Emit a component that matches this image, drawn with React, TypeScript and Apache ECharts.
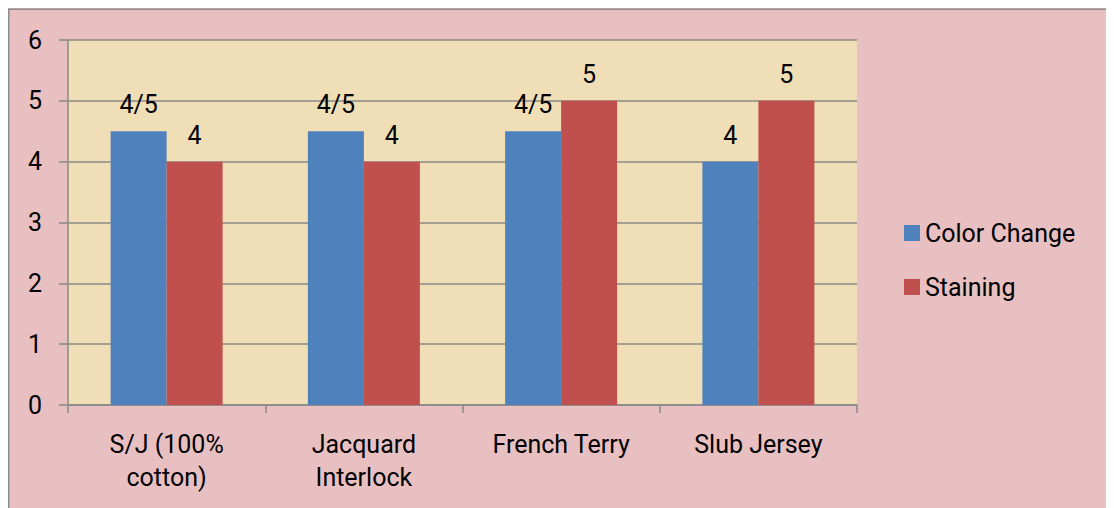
import React, { useEffect, useRef } from "react";
import * as echarts from "echarts";

const categories = ["S/J (100%\ncotton)", "Jacquard\nInterlock", "French Terry", "Slub Jersey"];
const colorChange = [4.5, 4.5, 4.5, 4];
const staining = [4, 4, 5, 5];
const colorChangeLabels = ["4/5", "4/5", "4/5", "4"];
const stainingLabels = ["4", "4", "5", "5"];
const yTicks = [0, 1, 2, 3, 4, 5, 6];

const FONT = "Roboto";

export default function App() {
  const ref = useRef<HTMLDivElement>(null);
  useEffect(() => {
    if (!ref.current) return;
    const chart = echarts.init(ref.current, undefined, { renderer: "svg" });
    const lbl = (arr: string[]) => ({
      show: true,
      position: "top",
      distance: 14,
      color: "#000",
      fontFamily: FONT,
      fontSize: 25,
      formatter: (p: any) => arr[p.dataIndex],
    });
    chart.setOption({
      animation: false,
      backgroundColor: "#e9c0c2",
      textStyle: { fontFamily: FONT },
      graphic: [
        {
          type: "polyline",
          shape: { points: [[0.75, 600], [0.75, 1.25], [1300, 1.25]] },
          style: { fill: "none", stroke: "#8c8c8c", lineWidth: 1.5 },
          z: 100,
        },
      ],
      grid: {
        left: 60,
        top: 32,
        right: 257,
        bottom: 103,
        show: true,
        backgroundColor: "#f0deb7",
        borderWidth: 0,
      },
      legend: {
        orient: "vertical",
        left: 891,
        top: 206,
        itemWidth: 16,
        itemHeight: 16,
        itemGap: 26,
        icon: "rect",
        textStyle: { fontSize: 25, color: "#000", fontFamily: FONT, lineHeight: 28 },
        data: ["Color Change", "Staining"],
      },
      xAxis: {
        type: "category",
        data: categories,
        axisLine: { lineStyle: { color: "#8a8a8a", width: 1.5 } },
        axisTick: { show: true, length: 8, lineStyle: { color: "#8a8a8a", width: 1.5 } },
        axisLabel: {
          color: "#000",
          fontSize: 25,
          fontFamily: FONT,
          lineHeight: 33,
          margin: 23,
          interval: 0,
        },
      },
      yAxis: {
        type: "value",
        min: yTicks[0],
        max: yTicks[yTicks.length - 1],
        interval: 1,
        axisLine: { show: true, lineStyle: { color: "#8a8a8a", width: 1.5 } },
        axisTick: { show: true, length: 9, lineStyle: { color: "#8a8a8a", width: 1.5 } },
        splitLine: { show: true, lineStyle: { color: "#8a8a8a", width: 1.5 } },
        axisLabel: {
          color: "#000",
          fontSize: 25,
          fontFamily: FONT,
          margin: 26,
        },
      },
      series: [
        {
          name: "Color Change",
          type: "bar",
          data: colorChange,
          itemStyle: { color: "#4f81bd" },
          barWidth: 56,
          barGap: "0%",
          label: lbl(colorChangeLabels),
        },
        {
          name: "Staining",
          type: "bar",
          data: staining,
          itemStyle: { color: "#c0504d" },
          barWidth: 56,
          barGap: "0%",
          label: lbl(stainingLabels),
        },
      ],
    });
    return () => chart.dispose();
  }, []);
  return <div ref={ref} style={{ width: 1106, height: 500 }} />;
}
